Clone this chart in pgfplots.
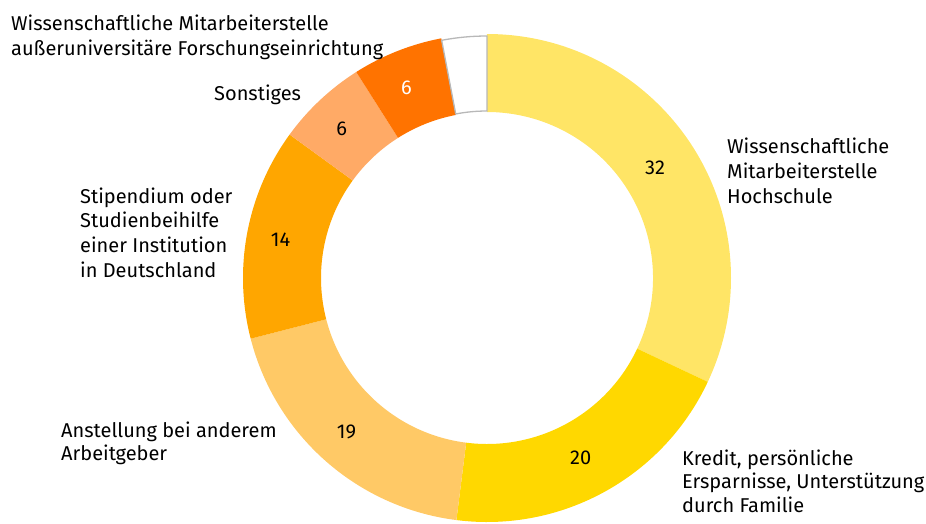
\documentclass[border=0pt]{standalone}
\usepackage{fontspec}
\IfFontExistsTF{FiraSans-Light.otf}{\setmainfont{FiraSans-Light.otf}}{\setmainfont{Fira Sans}}
\usepackage{pgfplots}
\usepackage{pgfplotstable}
\pgfplotsset{compat=1.18}
\definecolor{c1}{HTML}{FFE566}
\definecolor{c2}{HTML}{FFD800}
\definecolor{c3}{HTML}{FFC966}
\definecolor{c4}{HTML}{FFA600}
\definecolor{c5}{HTML}{FFAA66}
\definecolor{c6}{HTML}{FF7300}
\definecolor{c7}{HTML}{FFFFFF}
\pgfplotstableread{
value fill lab
32 c1 black
20 c2 black
19 c3 black
14 c4 black
6 c5 black
6 c6 white
3 c7 white
}\piedata
\newcommand{\lfont}{\fontsize{20}{24}\selectfont}
\begin{document}
\begin{tikzpicture}
\useasboundingbox (-487pt,-245pt) rectangle (439pt,278pt);
\begin{axis}[x={(1pt,0)}, y={(0,1pt)}, xmin=-487, xmax=439, ymin=-245, ymax=278,
  hide axis, clip=false, anchor=origin, at={(0,0)}]
\pgfplotsextra{
  \begin{scope}[shift={(axis cs:0,0)}]
  \gdef\startang{90}
  \pgfplotstablegetrowsof{\piedata}
  \pgfmathtruncatemacro\nrows{\pgfplotsretval-1}
  \foreach \i in {0,...,\nrows}{
    \pgfplotstablegetelem{\i}{value}\of\piedata \let\val\pgfplotsretval
    \pgfplotstablegetelem{\i}{fill}\of\piedata \let\col\pgfplotsretval
    \pgfplotstablegetelem{\i}{lab}\of\piedata \let\lcol\pgfplotsretval
    \pgfmathsetmacro\endang{\startang-3.6*\val}
    \pgfmathsetmacro\midang{\startang-1.8*\val}
    \ifnum\i=6
      \filldraw[fill=white, draw=black!28, line width=1.3pt] (\startang:242pt) arc[start angle=\startang, end angle=\endang, radius=242pt] -- (\endang:167pt) arc[start angle=\endang, end angle=\startang, radius=167pt] -- cycle;
    \else
      \fill[\col] (\startang:244pt) arc[start angle=\startang, end angle=\endang, radius=244pt] -- (\endang:166pt) arc[start angle=\endang, end angle=\startang, radius=166pt] -- cycle;
      \node[text=\lcol, font=\lfont, inner sep=0pt, xshift=-5pt] at (\midang:205pt) {\val};
    \fi
    \xdef\startang{\endang}
  }
  \end{scope}
}
\begin{scope}[every node/.style={anchor=base west, inner sep=0pt, font=\lfont}]
\node at (axis cs:240,125) {Wissenschaftliche};
\node at (axis cs:240,100) {Mitarbeiterstelle};
\node at (axis cs:240,75) {Hochschule};
\node at (axis cs:195,-187) {Kredit, persönliche};
\node at (axis cs:195,-210) {Ersparnisse, Unterstützung};
\node at (axis cs:195,-234) {durch Familie};
\node at (axis cs:-407,75) {Stipendium oder};
\node at (axis cs:-407,51) {Studienbeihilfe};
\node at (axis cs:-407,26) {einer Institution};
\node at (axis cs:-407,1) {in Deutschland};
\node at (axis cs:-426,-159) {Anstellung bei anderem};
\node at (axis cs:-426,-182) {Arbeitgeber};
\node at (axis cs:-273,178) {Sonstiges};
\node at (axis cs:-476,248) {Wissenschaftliche Mitarbeiterstelle};
\node at (axis cs:-476,223) {außeruniversitäre Forschungseinrichtung};
\end{scope}
\end{axis}
\end{tikzpicture}
\end{document}
